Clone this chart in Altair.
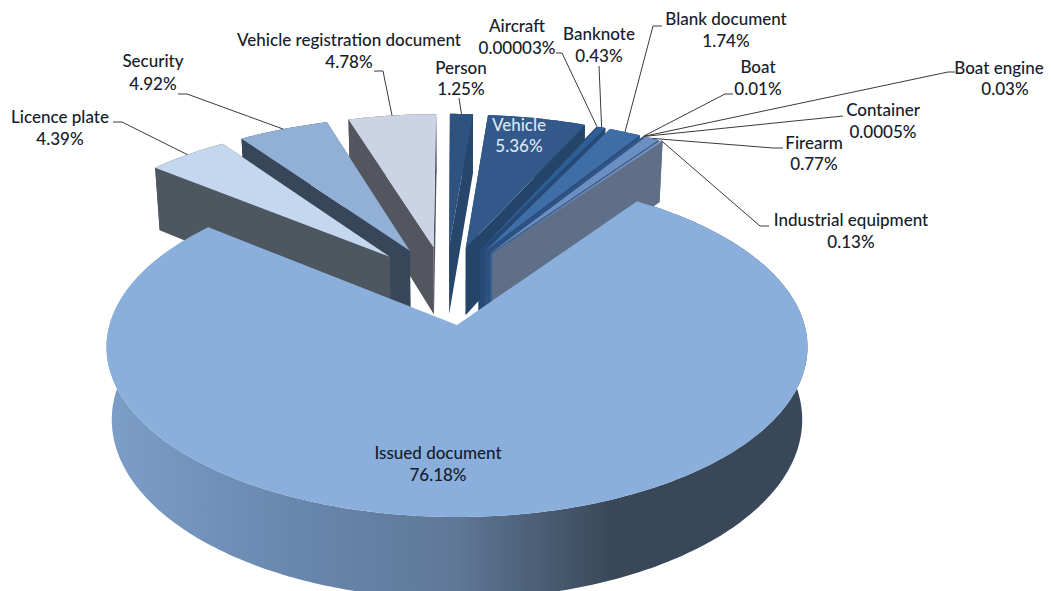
import math
import altair as alt
import pandas as pd

# ---- data (clockwise from 12 o'clock) ----
names = ["Person", "Vehicle", "Aircraft", "Banknote", "Blank document", "Boat", "Boat engine",
         "Container", "Firearm", "Industrial equipment", "Issued document", "Licence plate",
         "Security", "Vehicle registration document"]
values = [1.25, 5.36, 0.00003, 0.43, 1.74, 0.01, 0.03, 0.0005, 0.77, 0.13, 76.18, 4.39, 4.92, 4.78]
pct_text = ["1.25%", "5.36%", "0.00003%", "0.43%", "1.74%", "0.01%", "0.03%", "0.0005%", "0.77%",
            "0.13%", "76.18%", "4.39%", "4.92%", "4.78%"]
top_colors = ["#2F5380", "#33598A", "#2F5E96", "#2F5E96", "#3F6DA5", "#5B84BC", "#5B84BC", "#5B84BC",
              "#6A8FC0", "#7C98C6", "#8AAFDD", "#C3D7EE", "#92B0D5", "#CCD3E4"]
wall_colors = ["#27466C", "#24446A", "#24446A", "#264A75", "#2C5080", "#2C5080", "#2C5080", "#2C5080",
               "#3A5F90", "#5E6F87", "#5F7896", "#4E5660", "#38465A", "#53565F"]

# ---- label layout: centre x of name, centre x of percentage, first line y, second line y ----
label_x = [461, 519, 517, 599, 726, 758, 999, 883, 814, 851, 438, 60, 153, 349]
label_x2 = [461, 519, 517, 599, 726, 758, 1005, 883, 814, 851, 438, 60, 153, 349]
label_y1 = [69, 126, 27, 35, 20, 68, 69, 111, 144, 221, 454, 118, 62, 41]
label_y2 = [90, 147, 49, 57, 42, 90, 90, 133, 165, 243, 476, 140, 85, 63]
# ---- leader start and elbow, None when a slice has no leader ----
lead_start = [(459, 98), None, (556, 53), (599, 66), (662, 26), (733, 94), (955, 72), (843, 116),
              (783, 148), (769, 226), None, (113, 122), (178, 94), (374, 71)]
lead_elbow = [(459, 98), None, (562, 53), (599, 66), (653, 26), (725, 94), (948, 72), (843, 116),
              (773, 148), (760, 226), None, (122, 122), (187, 94), (383, 71)]

# ---- 3D view parameters ----
CX, CY = 457.0, 325.0
A, B, C = 347.5, 124.8, -0.13
EXPLODE = 0.25
RADIUS_BACK = 1.015
DROP = 71.4
SHRINK = 0.015
ISSUED = names.index("Issued document")


def project(u, v, low=False):
    w = 1 + C * v
    x = CX + A * u / w
    y = (B * v + CY) / w
    if low:
        x = CX + (x - CX) * (1 - SHRINK)
        y = y + DROP / w
    return x, y


def direction(deg):
    r = math.radians(deg)
    return math.sin(r), -math.cos(r)


total = sum(values)
spans, acc = [], 0.0
for val in values:
    a0 = acc / total * 360
    acc += val
    spans.append((a0, acc / total * 360))

mid_i = direction(sum(spans[ISSUED]) / 2)
origin = (-EXPLODE * mid_i[0], -EXPLODE * mid_i[1])


def tip_of(i):
    if i == ISSUED:
        return (0.0, 0.0)
    d = direction(sum(spans[i]) / 2)
    return (origin[0] + EXPLODE * d[0], origin[1] + EXPLODE * d[1])


def arc_of(i):
    a0, a1 = spans[i]
    n = max(1, int(math.ceil(a1 - a0)))
    t = tip_of(i)
    r = 1.0 if i == ISSUED else RADIUS_BACK
    out = []
    for k in range(n + 1):
        d = direction(a0 + (a1 - a0) * k / n)
        out.append((t[0] + r * d[0], t[1] + r * d[1]))
    return out


def frame(points):
    rows = [{"x": p[0], "y": p[1], "i": k} for k, p in enumerate(points)]
    rows.append({"x": points[0][0], "y": points[0][1], "i": len(points)})
    return pd.DataFrame(rows)


X = alt.X("x:Q", scale=alt.Scale(domain=[8, 1044], nice=False, zero=False), axis=None)
Y = alt.Y("y:Q", scale=alt.Scale(domain=[591, 8], nice=False, zero=False), axis=None)


def poly(points, fill):
    return alt.Chart(frame(points)).mark_line(
        fill=fill, strokeWidth=0, stroke=None, clip=True, interpolate="linear"
    ).encode(x=X, y=Y, order="i:Q")


layers = []
paint = sorted([i for i in range(len(values)) if i != ISSUED],
               key=lambda i: min(sum(spans[i]) / 2, 360 - sum(spans[i]) / 2))
for i in paint:
    arc = arc_of(i)
    t = tip_of(i)
    for e in [arc[0], arc[-1]]:
        layers.append(poly([project(*t), project(*e), project(*e, low=True), project(*t, low=True)],
                           wall_colors[i]))
    upper = [project(*p) for p in arc]
    lower = [project(*p, low=True) for p in arc]
    layers.append(poly(upper + lower[::-1], wall_colors[i]))
    layers.append(poly([project(*t)] + upper, top_colors[i]))

# the large front slice
arc = arc_of(ISSUED)
upper = [project(*p) for p in arc]
lower = [project(*p, low=True) for p in arc]
front = alt.Gradient(
    gradient="linear", x1=0, x2=1, y1=0, y2=0,
    stops=[alt.GradientStop(offset=0, color="#7D9EC9"),
           alt.GradientStop(offset=0.25, color="#6A88B0"),
           alt.GradientStop(offset=0.5, color="#5F7896"),
           alt.GradientStop(offset=0.72, color="#394859"),
           alt.GradientStop(offset=1, color="#394859")])
layers.append(poly(upper + lower[::-1], front))
layers.append(poly([project(0, 0)] + upper, top_colors[ISSUED]))

# leaders
for i in range(len(values)):
    if lead_start[i] is None:
        continue
    mid = sum(spans[i]) / 2
    t = tip_of(i)
    d = direction(mid)
    end = project(t[0] + RADIUS_BACK * d[0], t[1] + RADIUS_BACK * d[1])
    pts = [lead_start[i], lead_elbow[i], end]
    df = pd.DataFrame([{"x": p[0], "y": p[1], "i": k} for k, p in enumerate(pts)])
    layers.append(alt.Chart(df).mark_line(color="#3A3A3A", strokeWidth=1).encode(x=X, y=Y, order="i:Q"))

# labels
rows = []
for i, n in enumerate(names):
    col = "#DCE6F2" if n == "Vehicle" else "#15202B"
    rows.append({"x": label_x[i], "y": label_y1[i], "t": n, "c": col})
    rows.append({"x": label_x2[i], "y": label_y2[i], "t": pct_text[i], "c": col})
layers.append(alt.Chart(pd.DataFrame(rows)).mark_text(
    font="Lato", fontSize=17, fontWeight=500, align="center", baseline="middle"
).encode(x=X, y=Y, text="t:N", color=alt.Color("c:N", scale=None)))

chart = alt.layer(*layers).properties(
    width=1036, height=583, padding=0,
    autosize=alt.AutoSizeParams(type="none"),
    background="white",
).configure_view(stroke=None)

chart.save("out.html", embed_options={"renderer": "svg", "actions": False})
